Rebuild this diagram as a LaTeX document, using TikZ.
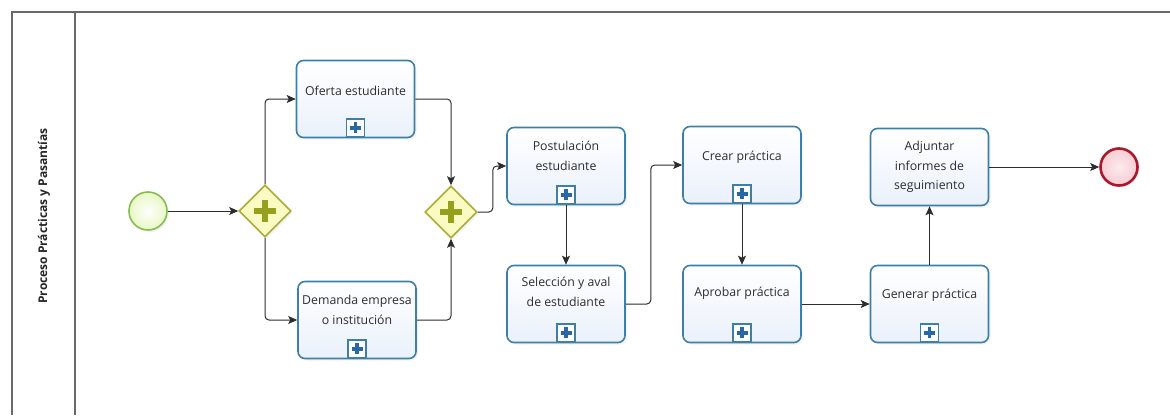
\documentclass[tikz,border=0pt]{standalone}
\usepackage{fontspec}
\setmainfont{Open Sans}
\usetikzlibrary{arrows.meta,shapes.geometric,shadows}

\definecolor{taskline}{RGB}{62,128,165}
\definecolor{taskfill}{RGB}{234,241,251}
\definecolor{markblue}{RGB}{38,105,165}
\definecolor{gwline}{RGB}{170,172,55}
\definecolor{gwfill}{RGB}{250,250,195}
\definecolor{gwplus}{RGB}{150,160,30}
\definecolor{startline}{RGB}{135,188,80}
\definecolor{startfill}{RGB}{232,247,195}
\definecolor{endline}{RGB}{168,25,45}
\definecolor{endfill}{RGB}{246,205,212}
\definecolor{flowcol}{RGB}{45,45,45}
\definecolor{poolline}{RGB}{105,105,105}
\definecolor{txt}{RGB}{45,45,50}

\tikzset{
  taskbox/.style={draw=taskline, line width=1.6pt, rounded corners=7pt,
    minimum width=118pt, minimum height=77pt, inner sep=0pt,
    top color=white, bottom color=taskfill,
    drop shadow={opacity=0.10, shadow xshift=2pt, shadow yshift=-2pt}},
  tasktext/.style={align=center, text=txt, font=\fontsize{12.3}{19.5}\selectfont, inner sep=0pt},
  submarker/.style={draw=taskline, line width=1.2pt, fill=white, minimum size=18pt,
    inner sep=0pt, anchor=south,
    path picture={
      \fill[markblue] ([xshift=-5.5pt,yshift=-1.7pt]path picture bounding box.center)
        rectangle ([xshift=5.5pt,yshift=1.7pt]path picture bounding box.center);
      \fill[markblue] ([xshift=-1.7pt,yshift=-5.5pt]path picture bounding box.center)
        rectangle ([xshift=1.7pt,yshift=5.5pt]path picture bounding box.center);
    }},
  gateway/.style={diamond, aspect=1, draw=gwline, line width=1.6pt, fill=gwfill,
    minimum width=52pt, minimum height=52pt, inner sep=0pt,
    drop shadow={opacity=0.10, shadow xshift=2pt, shadow yshift=-2pt},
    path picture={
      \fill[gwplus] ([xshift=-11pt,yshift=-3.2pt]path picture bounding box.center)
        rectangle ([xshift=11pt,yshift=3.2pt]path picture bounding box.center);
      \fill[gwplus] ([xshift=-3.2pt,yshift=-11pt]path picture bounding box.center)
        rectangle ([xshift=3.2pt,yshift=11pt]path picture bounding box.center);
    }},
  startev/.style={circle, draw=startline, line width=1.6pt, inner color=white,
    outer color=startfill, minimum size=38pt, inner sep=0pt,
    drop shadow={opacity=0.10, shadow xshift=2pt, shadow yshift=-2pt}},
  endev/.style={circle, draw=endline, line width=2.6pt, inner color=white!60!endfill,
    outer color=endfill, minimum size=37pt, inner sep=0pt,
    drop shadow={opacity=0.12, shadow xshift=2pt, shadow yshift=-2pt}},
  flowline/.style={draw=flowcol, line width=1pt, rounded corners=4pt,
    -{Stealth[length=9pt,width=8pt,inset=2pt]}},
}

\begin{document}
\begin{tikzpicture}[x=1pt,y=-1pt]
\useasboundingbox (0,0) rectangle (1170,415);
\fill[white] (0,0) rectangle (1170,415);

% pool with its single lane header
\draw[poolline, line width=1.4pt] (12,415) -- (12,12) -- (1170,12);
\draw[poolline, line width=1.4pt] (75,12) -- (75,415);
\node[rotate=90, text=black!85, font=\bfseries\fontsize{12}{14}\selectfont] (pool) at (44,216)
  {Proceso Prácticas y Pasantías};

% events and gateways
\node[startev] (start) at (148,211) {};
\node[gateway] (g1) at (265,211) {};
\node[gateway] (g2) at (451,212) {};
\node[endev] (end) at (1119,167) {};

% tasks
\node[taskbox] (oferta)  at (355.5,99) {};
\node[taskbox] (demanda) at (357,320) {};
\node[taskbox] (post)    at (566,166) {};
\node[taskbox] (selec)   at (566,304) {};
\node[taskbox] (crear)   at (742,165) {};
\node[taskbox] (aprob)   at (742,304) {};
\node[taskbox] (adjun)   at (929.5,167) {};
\node[taskbox] (gener)   at (929.5,304) {};

% task captions
\node[tasktext] (t-oferta)  at ([yshift=8pt]oferta.center)  {Oferta estudiante};
\node[tasktext] (t-demanda) at ([yshift=10pt]demanda.center) {Demanda empresa\\o institución};
\node[tasktext] (t-post)    at ([yshift=10pt]post.center)    {Postulación\\estudiante};
\node[tasktext] (t-selec)   at ([yshift=12pt]selec.center)   {Selección y aval\\de estudiante};
\node[tasktext] (t-crear)   at ([yshift=8pt]crear.center)    {Crear práctica};
\node[tasktext] (t-aprob)   at ([yshift=11pt]aprob.center)   {Aprobar práctica};
\node[tasktext] (t-adjun)   at (adjun.center)                {Adjuntar\\informes de\\seguimiento};
\node[tasktext] (t-gener)   at ([yshift=9pt]gener.center)    {Generar práctica};

% sub-process markers
\foreach \t in {oferta,demanda,post,selec,crear,aprob,gener}
  \node[submarker] (m-\t) at ([yshift=0.8pt]\t.south) {};

% sequence flows
\draw[flowline] (start.east) -- (g1.west);
\draw[flowline] (g1.north) |- (oferta.west);
\draw[flowline] (g1.south) |- (demanda.west);
\draw[flowline] (oferta.east) -| (g2.north);
\draw[flowline] (demanda.east) -| (g2.south);
\draw[flowline] (g2.east) -- ++(15,0) |- (post.west);
\draw[flowline] (m-post.south) -- (selec.north);
\draw[flowline] (selec.east) -- ++(25,0) |- (crear.west);
\draw[flowline] (m-crear.south) -- (aprob.north);
\draw[flowline] (aprob.east) -- (gener.west);
\draw[flowline] (gener.north) -- (adjun.south);
\draw[flowline] (adjun.east) -- (end.west);
\end{tikzpicture}
\end{document}
